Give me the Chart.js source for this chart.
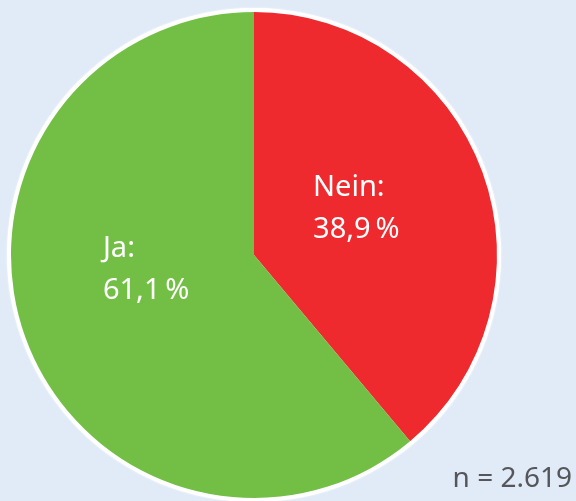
<!DOCTYPE html>
<html>
<head>
<meta charset="utf-8">
<script src="https://cdn.jsdelivr.net/npm/chart.js@4"></script>
<style>
  html, body { margin: 0; padding: 0; background: #e1ebf7; overflow: hidden; }
  #wrap { position: relative; width: 576px; height: 501px; overflow: hidden; }
  #pie { position: absolute; left: 0; top: 0; }
</style>
</head>
<body>
<div id="wrap">
  <canvas id="pie" width="576" height="512"></canvas>
</div>
<script>
var labels = ["Nein", "Ja"];
var values = [38.9, 61.1];
var colors = ["#ee2a2e", "#73bf46"];
var sampleNote = "n = 2.619";
// small nudges for where each label sits inside its slice
var labelNudge = [[-46, -21], [-46, -36]];

var sliceLabels = {
    id: "sliceLabels",
    afterDatasetsDraw: function (chart) {
        var ctx = chart.ctx;
        var meta = chart.getDatasetMeta(0);
        ctx.save();
        ctx.fillStyle = "#ffffff";
        ctx.font = "29px 'Noto Sans', sans-serif";
        ctx.textAlign = "left";
        ctx.textBaseline = "alphabetic";
        meta.data.forEach(function (arc, i) {
            var p = arc.getProps(["x", "y", "startAngle", "endAngle", "outerRadius"], true);
            var mid = (p.startAngle + p.endAngle) / 2;
            var r = p.outerRadius * 0.46;
            var x = p.x + Math.cos(mid) * r + labelNudge[i][0];
            var y = p.y + Math.sin(mid) * r + labelNudge[i][1];
            var pct = values[i].toFixed(1).replace(".", ",") + "\u2009%";
            ctx.fillText(labels[i] + ":", x, y);
            ctx.fillText(pct, x, y + 42);
        });
        // sample size, bottom right corner
        ctx.fillStyle = "#55565a";
        ctx.font = "28px 'Noto Sans', sans-serif";
        ctx.textAlign = "right";
        ctx.fillText(sampleNote, 572, 487);
        ctx.restore();
    }
};

new Chart(document.getElementById("pie"), {
    type: "pie",
    data: {
        labels: labels,
        datasets: [{
            data: values,
            backgroundColor: colors,
            borderWidth: 0,
            hoverOffset: 0
        }]
    },
    options: {
        responsive: false,
        animation: false,
        layout: { padding: { left: 11, top: 12, right: 79, bottom: 14 } },
        plugins: {
            legend: { display: false },
            tooltip: { enabled: false }
        }
    },
    plugins: [{
        id: "ring",
        beforeDatasetsDraw: function (chart) {
            var arc = chart.getDatasetMeta(0).data[0];
            var ctx = chart.ctx;
            ctx.save();
            ctx.beginPath();
            ctx.arc(arc.x, arc.y, arc.outerRadius + 4, 0, Math.PI * 2);
            ctx.fillStyle = "#ffffff";
            ctx.shadowColor = "rgba(255,255,255,0.9)";
            ctx.shadowBlur = 2;
            ctx.fill();
            ctx.restore();
        }
    }, sliceLabels]
});
</script>
</body>
</html>
